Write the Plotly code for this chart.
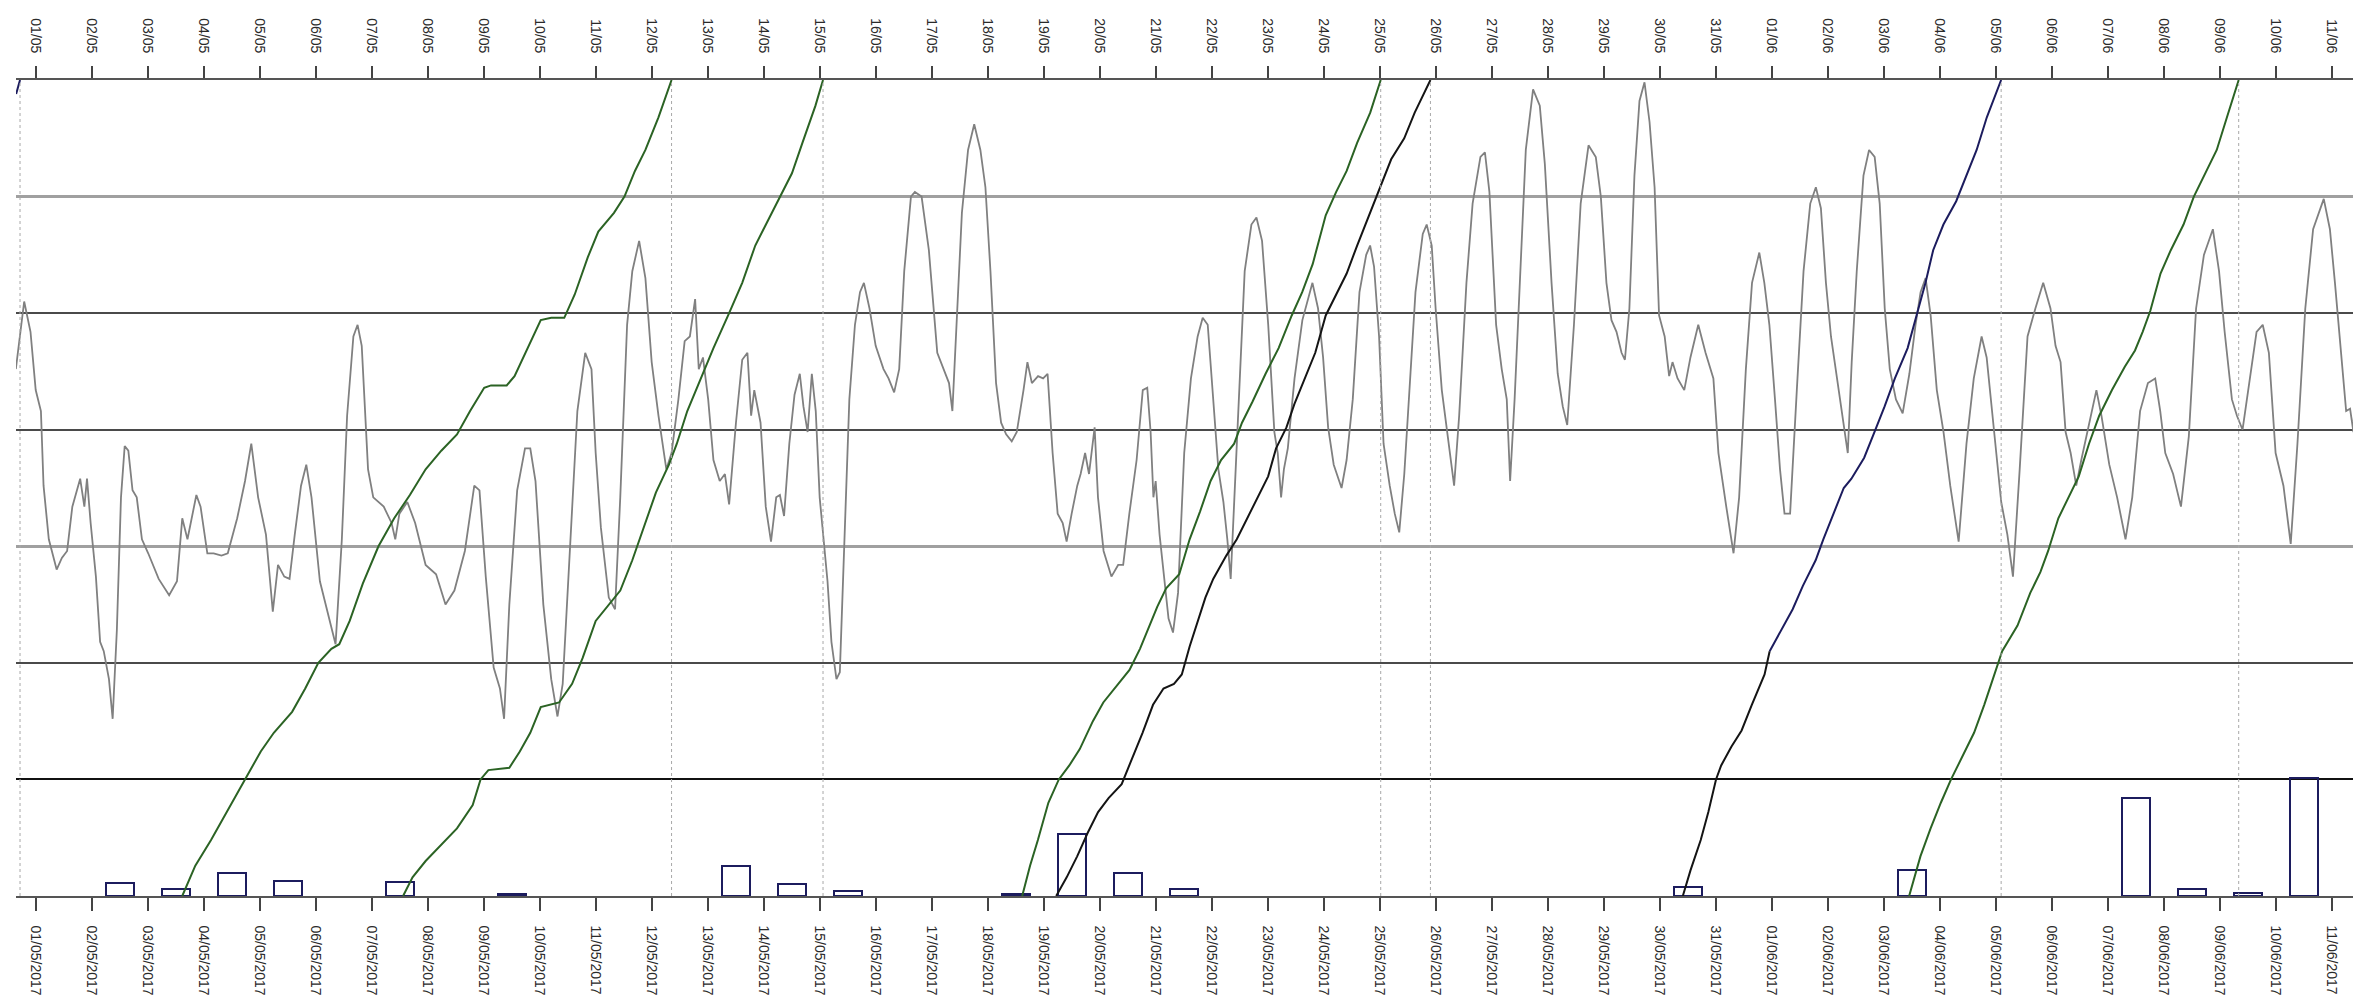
import pandas as pd
import plotly.graph_objects as go

BASE = pd.Timestamp("2017-05-01")

# ---- temperature (gray line), time in days since 01/05/2017 00:00, value in degC
temp_days = [-0.355, -0.308, -0.206, -0.093, 0.000, 0.093, 0.140, 0.234, 0.374, 0.467, 0.561, 0.654, 0.794, 0.869, 0.916, 0.981,
             1.075, 1.150, 1.215, 1.308, 1.374, 1.449, 1.523, 1.589, 1.654, 1.729, 1.804, 1.897, 2.009, 2.196, 2.383, 2.523,
             2.617, 2.710, 2.869, 2.944, 3.065, 3.178, 3.318, 3.430, 3.598, 3.738, 3.850, 3.972, 4.112, 4.234, 4.327, 4.439,
             4.533, 4.626, 4.738, 4.832, 4.925, 5.075, 5.234, 5.355, 5.467, 5.561, 5.673, 5.748, 5.822, 5.935, 6.028, 6.215,
             6.355, 6.421, 6.495, 6.636, 6.776, 6.963, 7.150, 7.318, 7.477, 7.664, 7.832, 7.925, 8.037, 8.178, 8.290, 8.364,
             8.458, 8.598, 8.738, 8.832, 8.925, 9.065, 9.206, 9.318, 9.411, 9.533, 9.673, 9.813, 9.925, 10.000, 10.093, 10.234,
             10.346, 10.439, 10.561, 10.654, 10.776, 10.888, 11.000, 11.121, 11.262, 11.355, 11.477, 11.589, 11.682, 11.776,
             11.841, 11.916, 12.009, 12.103, 12.215, 12.308, 12.383, 12.505, 12.617, 12.710, 12.776, 12.832, 12.944, 13.037,
             13.131, 13.224, 13.290, 13.364, 13.458, 13.551, 13.645, 13.710, 13.785, 13.86, 13.93, 14.00, 14.07, 14.14, 14.21,
             14.30, 14.36, 14.44, 14.53, 14.63, 14.72, 14.79, 14.89, 15.00, 15.14, 15.23, 15.33, 15.42, 15.51, 15.63, 15.70,
             15.82, 15.95, 16.10, 16.21, 16.31, 16.37, 16.45, 16.54, 16.65, 16.76, 16.87, 16.96, 17.05, 17.15, 17.24, 17.33,
             17.43, 17.52, 17.64, 17.71, 17.79, 17.90, 17.99, 18.07, 18.16, 18.25, 18.34, 18.41, 18.50, 18.60, 18.66, 18.74,
             18.81, 18.91, 18.97, 19.07, 19.21, 19.33, 19.42, 19.53, 19.66, 19.77, 19.85, 19.91, 19.96, 20.00, 20.07, 20.16,
             20.23, 20.31, 20.40, 20.51, 20.63, 20.75, 20.84, 20.93, 21.03, 21.12, 21.21, 21.28, 21.34, 21.40, 21.50, 21.59,
             21.71, 21.80, 21.90, 22.01, 22.12, 22.18, 22.24, 22.29, 22.36, 22.48, 22.62, 22.80, 22.90, 22.99, 23.08, 23.18,
             23.32, 23.41, 23.52, 23.64, 23.76, 23.83, 23.90, 23.99, 24.07, 24.18, 24.27, 24.35, 24.44, 24.53, 24.64, 24.77,
             24.84, 24.93, 25.00, 25.11, 25.24, 25.33, 25.42, 25.55, 25.66, 25.80, 25.88, 25.96, 26.08, 26.18, 26.27, 26.33,
             26.41, 26.50, 26.61, 26.74, 26.86, 26.95, 27.07, 27.18, 27.27, 27.35, 27.47, 27.59, 27.73, 27.86, 27.95, 28.05,
             28.14, 28.23, 28.32, 28.38, 28.46, 28.55, 28.64, 28.73, 28.82, 28.91, 28.99, 29.09, 29.17, 29.23, 29.32, 29.44,
             29.55, 29.69, 29.82, 29.96, 30.05, 30.19, 30.32, 30.42, 30.54, 30.65, 30.78, 30.87, 30.96, 31.06, 31.15, 31.23,
             31.33, 31.45, 31.57, 31.69, 31.79, 31.88, 31.97, 32.06, 32.20, 32.36, 32.43, 32.52, 32.64, 32.74, 32.84, 32.93,
             33.02, 33.11, 33.22, 33.34, 33.46, 33.57, 33.66, 33.75, 33.84, 33.95, 34.07, 34.19, 34.34, 34.48, 34.61, 34.75,
             34.84, 34.98, 35.10, 35.21, 35.31, 35.43, 35.57, 35.71, 35.85, 35.98, 36.07, 36.16, 36.25, 36.34, 36.44, 36.53,
             36.67, 36.80, 36.89, 37.03, 37.17, 37.32, 37.44, 37.58, 37.72, 37.85, 37.94, 38.03, 38.17, 38.31, 38.45, 38.58,
             38.72, 38.88, 38.99, 39.09, 39.22, 39.31, 39.41, 39.54, 39.66, 39.77, 39.88, 40.00, 40.14, 40.27, 40.39, 40.53,
             40.67, 40.86, 40.97, 41.06, 41.17, 41.26, 41.33, 41.39, 41.47, 41.56, 41.67]
temp_c = [22.6, 23.5, 25.5, 24.2, 21.7, 20.8, 17.6, 15.3, 14.0, 14.5, 14.8, 16.7, 17.9, 16.7, 17.9, 16.0,
          13.7, 10.9, 10.5, 9.3, 7.6, 11.4, 17.1, 19.3, 19.1, 17.4, 17.1, 15.3, 14.7, 13.6, 12.9, 13.5,
          16.2, 15.3, 17.2, 16.7, 14.7, 14.7, 14.6, 14.7, 16.2, 17.8, 19.4, 17.1, 15.5, 12.2, 14.2, 13.7,
          13.6, 15.5, 17.6, 18.5, 17.1, 13.5, 11.9, 10.8, 15.3, 20.6, 24.0, 24.5, 23.6, 18.3, 17.1, 16.7,
          16.0, 15.3, 16.4, 16.9, 16.0, 14.2, 13.8, 12.5, 13.1, 14.8, 17.6, 17.4, 13.7, 9.8, 8.9, 7.6,
          12.5, 17.4, 19.2, 19.2, 17.8, 12.5, 9.3, 7.7, 9.1, 14.8, 20.8, 23.3, 22.6, 19.0, 15.8, 12.8,
          12.3, 17.1, 24.5, 26.8, 28.1, 26.5, 22.9, 20.6, 18.3, 19.0, 21.3, 23.8, 24.0, 25.6,
          22.6, 23.1, 21.3, 18.7, 17.8, 18.1, 16.8, 20.3, 23.0, 23.3, 20.6, 21.7, 20.3, 16.7,
          15.2, 17.1, 17.2, 16.3, 19.4, 21.5, 22.4, 21.0, 19.9, 22.4, 20.8, 17.1, 15.3, 13.5, 10.9,
          9.3, 9.6, 14.8, 21.3, 24.5, 25.9, 26.3, 25.2, 23.6, 22.6, 22.2, 21.6, 22.6, 26.8, 30.0, 30.2,
          30.0, 27.7, 23.3, 22.6, 22.0, 20.8, 24.7, 29.3, 32.0, 33.1, 32.0, 30.4, 26.8, 22.0, 20.3, 19.8,
          19.5, 19.9, 21.7, 22.9, 22.0, 22.3, 22.2, 22.4, 19.0, 16.4, 16.0, 15.2, 16.4, 17.6, 18.1, 19.0,
          18.1, 20.1, 17.1, 14.8, 13.7, 14.2, 14.2, 16.4, 18.7, 21.7, 21.8, 19.9, 17.1, 17.8, 15.5, 13.5,
          11.9, 11.3, 13.0, 19.0, 22.2, 24.0, 24.8, 24.5, 21.3, 18.3, 16.9, 15.3, 13.6, 16.7, 22.2, 26.8,
          28.8, 29.1, 28.1, 24.5, 19.9, 19.0, 17.1, 18.3, 19.2, 22.2, 24.7, 26.3, 25.2, 23.1, 20.1, 18.5,
          17.5, 18.7, 21.3, 25.9, 27.5, 27.9, 27.0, 24.0, 19.4, 17.6, 16.4, 15.6, 18.1, 21.7, 25.9, 28.4,
          28.8, 27.9, 25.2, 21.7, 19.4, 17.6, 20.6, 26.3, 29.7, 31.7, 31.9, 30.2, 24.5, 22.6, 21.3, 17.8,
          21.3, 26.3, 32.0, 34.6, 33.9, 31.4, 26.3, 22.4, 21.0, 20.2, 24.5, 29.7, 32.2, 31.7, 30.0, 26.3,
          24.7, 24.2, 23.3, 23.0, 25.2, 30.9, 34.1, 34.9, 33.2, 30.4, 24.9, 24.0, 22.3, 22.9, 22.2, 21.7,
          23.1, 24.5, 23.3, 22.2, 19.0, 16.7, 14.7, 17.1, 22.6, 26.3, 27.6, 26.3, 24.5, 21.3, 18.3, 16.4,
          16.4, 21.7, 26.8, 29.7, 30.4, 29.5, 26.3, 24.0, 21.7, 19.0, 22.9, 26.8, 30.9, 32.0, 31.7, 29.7,
          25.2, 22.6, 21.3, 20.7, 22.4, 24.5, 25.9, 26.5, 24.9, 21.7, 19.9, 17.6, 15.2, 19.4, 22.2, 24.0,
          23.1, 19.9, 16.9, 15.5, 13.7, 18.3, 24.0, 25.2, 26.3, 25.2, 23.6, 22.9, 19.9, 19.0, 17.6, 18.7,
          20.3, 21.7, 20.6, 18.5, 17.1, 15.3, 17.1, 20.8, 22.0, 22.2, 20.8, 19.0, 18.1, 16.7, 19.7, 25.2,
          27.5, 28.6, 26.8, 24.2, 21.3, 20.6, 20.0, 22.2, 24.2, 24.5, 23.3, 19.0, 17.6, 15.1, 19.4, 25.2,
          28.6, 29.9, 28.6, 26.3, 23.3, 20.8, 20.9, 19.9, 26.3, 29.7, 31.4]

# ---- rain (hollow bars), one per day, mm
rain_dates = ["2017-05-02 12:00", "2017-05-03 12:00", "2017-05-04 12:00", "2017-05-05 12:00", "2017-05-07 12:00",
              "2017-05-09 12:00", "2017-05-13 12:00", "2017-05-14 12:00", "2017-05-15 12:00", "2017-05-18 12:00",
              "2017-05-19 12:00", "2017-05-20 12:00", "2017-05-21 12:00", "2017-05-30 12:00", "2017-06-03 12:00",
              "2017-06-07 12:00", "2017-06-08 12:00", "2017-06-09 12:00", "2017-06-10 12:00"]
rain_mm = [1.1, 0.6, 2.0, 1.3, 1.2, 0.2, 2.6, 1.0, 0.4, 0.2, 5.3, 2.0, 0.6, 0.8, 2.2, 8.4, 0.6, 0.3, 10.1]

# ---- accumulations (rising lines)
prev_days = [-0.35, -0.28]
prev_vals = [344, 350]

green1_days = [2.617, 2.850, 3.131, 3.411, 3.738, 4.019, 4.252, 4.579, 4.813, 5.047, 5.280, 5.421, 5.607, 5.841, 6.121,
               6.402, 6.682, 6.963, 7.243, 7.523, 7.757, 8.009, 8.131, 8.411, 8.551, 8.785, 9.019, 9.206, 9.439, 9.626,
               9.860, 10.047, 10.327, 10.514, 10.701, 10.888, 11.121, 11.355]
green1_vals = [0, 13, 24, 36, 50, 62, 70, 79, 89, 100, 106, 108, 118, 134, 150, 162, 172, 183, 191, 198, 208, 218, 219,
               219, 223, 235, 247, 248, 248, 258, 274, 285, 293, 300, 311, 320, 334, 350]

green2_days = [6.561, 6.729, 6.963, 7.243, 7.523, 7.804, 7.944, 8.084, 8.458, 8.645, 8.832, 9.019, 9.346, 9.579, 9.766,
               10.000, 10.234, 10.439, 10.654, 10.841, 11.075, 11.308, 11.449, 11.636, 11.916, 12.103, 12.383, 12.617,
               12.850, 13.084, 13.318, 13.505, 13.692, 13.925, 14.06]
green2_vals = [0, 8, 15, 22, 29, 39, 50, 54, 55, 62, 70, 81, 83, 91, 102, 118, 125, 131, 144, 157, 173, 185, 194, 208,
               224, 235, 250, 263, 279, 290, 301, 310, 323, 339, 350]

green3_days = [17.617, 17.757, 17.897, 18.084, 18.271, 18.458, 18.645, 18.879, 19.065, 19.299, 19.533, 19.720, 19.907,
               20.028, 20.187, 20.421, 20.607, 20.794, 20.981, 21.168, 21.402, 21.542, 21.729, 21.963, 22.196, 22.430,
               22.617, 22.804, 23.037, 23.224, 23.411, 23.598, 23.832, 24.019]
green3_vals = [0, 13, 24, 40, 50, 56, 63, 75, 83, 90, 97, 106, 117, 124, 132, 138, 153, 165, 178, 187, 194, 203, 212,
               224, 235, 249, 259, 271, 292, 302, 311, 323, 336, 350]

black1_days = [18.224, 18.411, 18.598, 18.785, 18.972, 19.159, 19.393, 19.579, 19.766, 19.953, 20.140, 20.327, 20.467,
               20.607, 20.748, 20.888, 21.028, 21.262, 21.449, 21.636, 21.822, 22.009, 22.150, 22.336, 22.477, 22.664,
               22.850, 23.037, 23.224, 23.411, 23.598, 23.832, 24.019, 24.206, 24.439, 24.626, 24.907]
black1_vals = [0, 8, 17, 27, 36, 42, 48, 59, 70, 82, 89, 91, 95, 107, 118, 128, 136, 146, 153, 162, 171, 180, 192, 201,
               211, 222, 233, 249, 258, 267, 279, 293, 304, 316, 325, 336, 350]

black2_days = [29.414, 29.551, 29.734, 29.870, 30.007, 30.099, 30.281, 30.464, 30.646, 30.874, 30.965]
black2_vals = [0, 11, 24, 36, 50, 56, 64, 71, 82, 95, 105]

navy2_days = [30.965, 31.057, 31.193, 31.376, 31.558, 31.786, 31.923, 32.106, 32.288, 32.425, 32.653, 32.836, 33.018,
              33.201, 33.429, 33.611, 33.748, 33.885, 34.068, 34.296, 34.478, 34.661, 34.843, 35.099]
navy2_vals = [105, 109, 115, 123, 133, 144, 153, 164, 175, 179, 188, 199, 210, 222, 235, 251, 263, 277, 288, 298, 309,
              320, 334, 350]

green4_days = [33.456, 33.657, 33.839, 34.022, 34.204, 34.387, 34.615, 34.797, 34.980, 35.117, 35.391, 35.619, 35.801,
               35.938, 36.120, 36.303, 36.485, 36.668, 36.850, 37.078, 37.307, 37.489, 37.626, 37.763, 37.945, 38.128,
               38.356, 38.540, 38.723, 38.949, 39.131, 39.341]
green4_vals = [0, 17, 29, 40, 50, 59, 70, 82, 95, 105, 116, 130, 139, 148, 162, 171, 180, 194, 206, 217, 227, 234, 242,
               251, 267, 277, 288, 300, 309, 320, 334, 350]

X_START_DAY = -0.352
X_END_DAY = 41.668
TEMP_MAX = 35
RAIN_MAX = 70
CUM_MAX = 350


def to_dt(days):
    return [BASE + pd.Timedelta(days=d) for d in days]


GREEN = "#2b6324"
BLACK = "#141414"
NAVY = "#1c1c5e"
GRAY = "#808080"

fig = go.Figure()

# rain bars
fig.add_trace(go.Bar(x=pd.to_datetime(rain_dates), y=rain_mm, yaxis="y2",
                     width=0.5 * 86400000,
                     marker=dict(color="rgba(255,255,255,0)", line=dict(color=NAVY, width=2)),
                     showlegend=False, hoverinfo="x+y"))

# temperature
fig.add_trace(go.Scatter(x=to_dt(temp_days), y=temp_c, mode="lines",
                         line=dict(color=GRAY, width=1.8), showlegend=False))

# vertical dotted markers at the end of each accumulation
ends = [prev_days[-1], green1_days[-1], green2_days[-1], green3_days[-1], black1_days[-1],
        navy2_days[-1], green4_days[-1]]
vx, vy = [], []
for e in ends:
    t = BASE + pd.Timedelta(days=e)
    vx += [t, t, None]
    vy += [0, CUM_MAX, None]
fig.add_trace(go.Scatter(x=vx, y=vy, mode="lines", xaxis="x2", yaxis="y3",
                         line=dict(color="#a8a8a8", width=1, dash="dot"), showlegend=False, hoverinfo="skip"))

# accumulations
for days, vals, col in [(prev_days, prev_vals, NAVY),
                        (green1_days, green1_vals, GREEN),
                        (green2_days, green2_vals, GREEN),
                        (green3_days, green3_vals, GREEN),
                        (black1_days, black1_vals, BLACK),
                        (black2_days, black2_vals, BLACK),
                        (navy2_days, navy2_vals, NAVY),
                        (green4_days, green4_vals, GREEN)]:
    fig.add_trace(go.Scatter(x=to_dt(days), y=vals, mode="lines", yaxis="y3",
                             line=dict(color=col, width=2), showlegend=False))

x_range = [BASE + pd.Timedelta(days=X_START_DAY), BASE + pd.Timedelta(days=X_END_DAY)]
tickfont = dict(family="Liberation Sans, Arial, sans-serif", size=14, color="#2a2a2a")

fig.update_layout(
    width=2361, height=1000,
    margin=dict(l=8, r=0, t=72, b=112),
    paper_bgcolor="white", plot_bgcolor="white",
    showlegend=False,
    bargap=0,
    xaxis=dict(type="date", range=x_range, tick0="2017-05-01", dtick=86400000, tickformat="%d/%m/%Y",
               tickangle=90, ticks="outside", ticklen=13, tickwidth=1.5, tickcolor="#444444",
               showline=True, linecolor="#555555", linewidth=1.5, showgrid=False, zeroline=False,
               tickfont=tickfont, ticklabelstandoff=12),
    xaxis2=dict(type="date", overlaying="x", side="top", matches="x", range=x_range, tick0="2017-05-01",
                dtick=86400000, tickformat="%d/%m", tickangle=90, ticks="outside", ticklen=12, tickwidth=1.5,
                tickcolor="#444444", showline=True, linecolor="#555555", linewidth=1.5, showgrid=False,
                zeroline=False, tickfont=tickfont, ticklabelstandoff=8),
    yaxis=dict(range=[0, TEMP_MAX], tickmode="array", tickvals=[10, 20, 25], showticklabels=False,
               showgrid=True, gridcolor="#4a4a4a", gridwidth=1.5, zeroline=False, showline=False, ticks=""),
    yaxis2=dict(range=[0, RAIN_MAX], overlaying="y", tickmode="array", tickvals=[10], showticklabels=False,
                showgrid=True, gridcolor="#111111", gridwidth=1.5, zeroline=False, showline=False, ticks=""),
    yaxis3=dict(range=[0, CUM_MAX], overlaying="y", tickmode="array", tickvals=[150, 300], showticklabels=False,
                showgrid=True, gridcolor="#a0a0a0", gridwidth=2.5, zeroline=False, showline=False, ticks=""),
)

fig.write_html("out.html")
